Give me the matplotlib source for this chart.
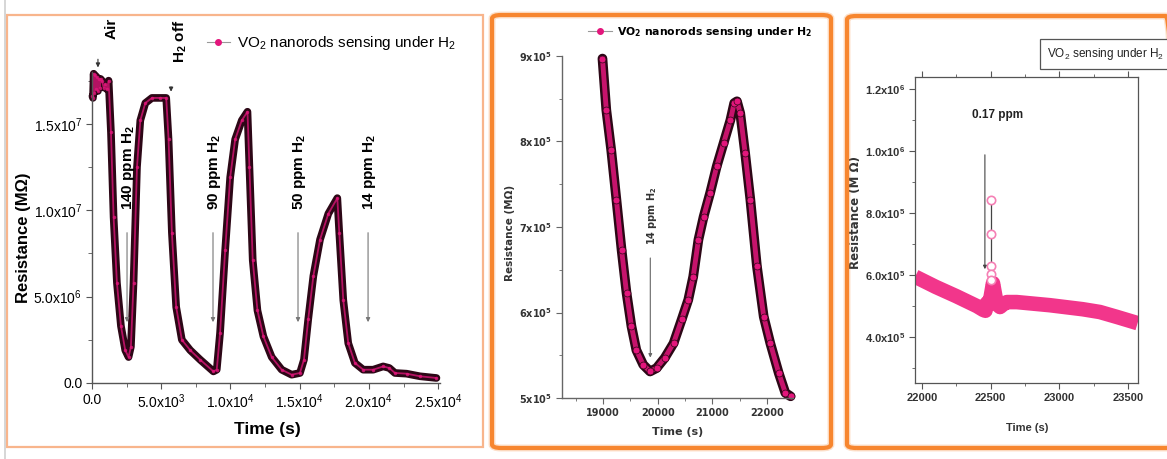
import numpy as np
import matplotlib.pyplot as plt
from matplotlib.lines import Line2D
from matplotlib.patches import Rectangle, FancyBboxPatch

# panel 1: full response, resistance in units of 1e6
time1 = [30, 70, 120, 170, 230, 300, 360, 430, 500, 550, 620, 720, 840, 960, 1080, 1200,
         1370, 1560, 1800, 2090, 2400, 2640, 2810, 3000, 3250, 3490, 3850, 4330, 4900, 5360,
         5530, 5770, 6080, 6490, 7090, 7810, 8770, 9010, 9250, 9620, 9980, 10340, 10820, 11230,
         11370, 11610, 11950, 12380, 12980, 13700, 14420, 15020, 15310, 15620, 15990, 16470,
         17070, 17720, 17860, 18150, 18510, 18990, 19590, 20310, 21030, 21470, 21880, 22720,
         23680, 24880]
res1 = [16.6, 16.5, 17.9, 16.8, 17.8, 17.0, 17.7, 16.9, 17.6, 17.1, 17.6, 17.5, 17.1, 17.3, 17.0, 17.5,
        14.5, 9.6, 5.8, 3.3, 1.9, 1.5, 2.1, 5.8, 12.5, 15.2, 16.2, 16.5, 16.5, 16.5,
        14.1, 8.7, 4.4, 2.5, 1.9, 1.35, 0.67, 0.77, 2.9, 7.7, 11.9, 14.1, 15.2, 15.7,
        12.5, 7.1, 4.2, 2.7, 1.5, 0.77, 0.48, 0.58, 1.35, 3.7, 6.2, 8.3,
        9.8, 10.7, 8.7, 4.8, 2.3, 1.16, 0.77, 0.77, 0.96, 0.87, 0.58, 0.54,
        0.39, 0.29]
xticks1 = [0, 5000, 10000, 15000, 20000, 25000]
xlabels1 = ['0.0', '5.0x10^3', '1.0x10^4', '1.5x10^4', '2.0x10^4', '2.5x10^4']
yticks1 = [0, 5e6, 1e7, 1.5e7]
ylabels1 = ['0.0', '5.0x10^6', '1.0x10^7', '1.5x10^7']
# (label, time, arrow top, arrow bottom)
gas1 = [('140 ppm H$\\mathregular{_2}$', 2530, 8.86e6, 3.36e6),
        ('90 ppm H$\\mathregular{_2}$', 8740, 8.86e6, 3.36e6),
        ('50 ppm H$\\mathregular{_2}$', 14880, 8.86e6, 3.36e6),
        ('14 ppm H$\\mathregular{_2}$', 19940, 8.86e6, 3.36e6)]

# panel 2: zoom on the 14 ppm pulse
time2 = [18990, 19060, 19150, 19245, 19340, 19430, 19520, 19610, 19735, 19860, 19980, 20130,
         20290, 20440, 20560, 20650, 20745, 20840, 20960, 21080, 21205, 21330, 21400, 21450,
         21510, 21600, 21695, 21815, 21940, 22060, 22215, 22335, 22430]
res2 = [8.97, 8.37, 7.90, 7.32, 6.73, 6.23, 5.84, 5.56, 5.39, 5.31, 5.35, 5.47,
        5.64, 5.92, 6.15, 6.42, 6.85, 7.12, 7.40, 7.71, 7.98, 8.25, 8.45, 8.47,
        8.33, 7.86, 7.32, 6.54, 5.95, 5.64, 5.29, 5.06, 5.02]
xticks2 = [19000, 20000, 21000, 22000]
yticks2 = [5e5, 6e5, 7e5, 8e5, 9e5]
ylabels2 = ['5x10^5', '6x10^5', '7x10^5', '8x10^5', '9x10^5']

# panel 3: 0.17 ppm
time3 = [21950, 22100, 22250, 22400, 22445, 22462, 22473, 22485, 22500, 22517, 22535, 22553,
         22568, 22590, 22618, 22690, 22930, 23170, 23295, 23420, 23570]
res3 = [5.95, 5.62, 5.32, 5.0, 4.88, 4.85, 5.1, 5.05, 5.3, 5.74, 5.3, 5.03,
        4.97, 5.05, 5.13, 5.13, 5.03, 4.9, 4.81, 4.65, 4.45]
spike_t = [22500, 22500, 22500, 22500, 22500]
spike_r = [8.42, 7.34, 6.3, 6.02, 5.85]
xticks3 = [22000, 22500, 23000, 23500]
yticks3 = [4e5, 6e5, 8e5, 1e6, 1.2e6]
ylabels3 = ['4.0x10^5', '6.0x10^5', '8.0x10^5', '1.0x10^6', '1.2x10^6']


def sup(lbl):
    if '^' not in lbl:
        return lbl
    base, p = lbl.split('^')
    return '$\\mathregular{' + base + '^{' + p + '}}$'


W, H = 1167, 459
fig = plt.figure(figsize=(W / 100, H / 100), dpi=100)


def box(l, t, r, b):
    return [l / W, 1 - b / H, (r - l) / W, (b - t) / H]


# frames round the three panels
fig.add_artist(Line2D([5 / W, 5 / W], [0, 1], color='#cfcfcf', lw=1.2))
fig.add_artist(Rectangle((7 / W, 1 - 447 / H), 476 / W, 432 / H, transform=fig.transFigure,
                         fill=False, ec='#f8b58c', lw=1.6))
for l, t, r, b in [(492, 15, 831, 448), (847, 16, 1175, 448)]:
    for lw, a in [(5, 0.25), (3, 1.0)]:
        fig.add_artist(FancyBboxPatch((l / W, 1 - b / H), (r - l) / W, (b - t) / H,
                                      boxstyle='round,pad=0,rounding_size=0.008',
                                      transform=fig.transFigure, fill=False,
                                      ec='#f7862f', lw=lw, alpha=a))

dark = '#2c0716'
pink = '#e3167c'

# ---------- panel 1
ax1 = fig.add_axes(box(92, 72, 439.5, 383))
t1 = np.array(time1)
r1 = np.array(res1) * 1e6
ax1.plot(t1, r1, color=dark, lw=5.5, solid_capstyle='round', solid_joinstyle='round', clip_on=False)
ax1.plot(t1, r1, color=pink, lw=1.3, alpha=0.75, clip_on=False)
ax1.plot(t1, r1, 'o', ms=2.5, mfc=pink, mec=pink, mew=0, alpha=0.8, clip_on=False)
ax1.set_xlim(0, 25100)
ax1.set_ylim(0, 1.8e7)
ax1.set_xticks(xticks1, [sup(s) for s in xlabels1])
ax1.set_yticks(yticks1, [sup(s) for s in ylabels1])
ax1.set_xticks(np.arange(2500, 25000, 5000), minor=True)
ax1.set_yticks([2.5e6, 7.5e6, 1.25e7, 1.75e7], minor=True)
for s in ['top', 'right']:
    ax1.spines[s].set_visible(False)
for s in ['left', 'bottom']:
    ax1.spines[s].set_color('#555555')
    ax1.spines[s].set_linewidth(1.0)
ax1.tick_params(which='both', direction='out', color='#555555', labelsize=10, pad=3,
                labelfontfamily='Liberation Sans')
ax1.tick_params(which='major', length=4)
ax1.tick_params(which='minor', length=3)
ax1.set_xlabel('Time (s)', fontsize=12.5, family='Liberation Sans', fontweight='bold')
ax1.set_ylabel('Resistance (MΩ)', fontsize=12, family='Liberation Sans', fontweight='bold')
ax1.xaxis.set_label_coords(0.506, -0.125)
ax1.yaxis.set_label_coords(-0.176, 0.466)
for lbl, tx, ytop, ybot in gas1:
    ax1.annotate('', xy=(tx, ybot), xytext=(tx, ytop), annotation_clip=False,
                 arrowprops=dict(arrowstyle='-|>', color='#777777', lw=0.8, mutation_scale=6))
    ax1.text(tx + 100, 1.0e7, lbl, rotation=90, ha='center', va='bottom', fontsize=11,
             family='Liberation Sans', fontweight='bold')
ax1.annotate('', xy=(430, 18.1e6), xytext=(430, 18.9e6), annotation_clip=False,
             arrowprops=dict(arrowstyle='-|>', color='#333333', lw=0.8, mutation_scale=6))
ax1.text(1445, 19.9e6, 'Air', rotation=90, ha='center', va='bottom', fontsize=11,
         family='Liberation Sans', fontweight='bold')
ax1.annotate('', xy=(5710, 16.7e6), xytext=(5710, 17.3e6), annotation_clip=False,
             arrowprops=dict(arrowstyle='-|>', color='#333333', lw=0.8, mutation_scale=6))
ax1.text(6360, 18.5e6, 'H$\\mathregular{_2}$ off', rotation=90, ha='center', va='bottom',
         fontsize=11, family='Liberation Sans', fontweight='bold')
h1 = Line2D([], [], color='#999999', lw=0.8, marker='o', ms=4, mfc=pink, mec=pink)
ax1.legend([h1], ['VO$\\mathregular{_2}$ nanorods sensing under H$\\mathregular{_2}$'],
           loc='center left', bbox_to_anchor=(207 / W, 1 - 43 / H), bbox_transform=fig.transFigure,
           frameon=False, borderpad=0, borderaxespad=0, handlelength=1.5, handletextpad=0.45,
           prop={'family': 'Liberation Sans', 'size': 11})

# ---------- panel 2
ax2 = fig.add_axes(box(562, 56, 793, 398))
t2 = np.array(time2)
r2 = np.array(res2) * 1e5
ax2.plot(t2, r2, color=dark, lw=7, solid_capstyle='round', solid_joinstyle='round', clip_on=False)
ax2.plot(t2, r2, color=pink, lw=3.5, alpha=0.85, clip_on=False)
ax2.plot(t2, r2, 'o', ms=5, mfc=pink, mec=dark, mew=0.5, clip_on=False)
ax2.set_xlim(18250, 22475)
ax2.set_ylim(5e5, 9e5)
ax2.set_xticks(xticks2, [str(v) for v in xticks2])
ax2.set_yticks(yticks2, [sup(s) for s in ylabels2])
ax2.set_xticks([18500, 19500, 20500, 21500], minor=True)
ax2.set_yticks([5.5e5, 6.5e5, 7.5e5, 8.5e5], minor=True)
for s in ['top', 'right']:
    ax2.spines[s].set_visible(False)
for s in ['left', 'bottom']:
    ax2.spines[s].set_color('#666666')
    ax2.spines[s].set_linewidth(1.0)
ax2.tick_params(which='both', direction='out', color='#666666', labelsize=7, pad=3)
ax2.tick_params(which='major', length=4)
ax2.tick_params(which='minor', length=2.5)
for lab in ax2.get_xticklabels() + ax2.get_yticklabels():
    lab.set_fontweight('bold')
    lab.set_color('#333333')
ax2.set_xlabel('Time (s)', fontsize=8, fontweight='bold', color='#333333')
ax2.set_ylabel('Resistance (MΩ)', fontsize=7.5, fontweight='bold', color='#333333')
ax2.xaxis.set_label_coords(0.502, -0.085)
ax2.yaxis.set_label_coords(-0.203, 0.482)
ax2.annotate('', xy=(19865, 5.44e5), xytext=(19865, 6.67e5), annotation_clip=False,
             arrowprops=dict(arrowstyle='-|>', color='#666666', lw=0.8, mutation_scale=5))
ax2.text(19900, 6.79e5, '14 ppm H$\\mathregular{_2}$', rotation=90, ha='center', va='bottom',
         fontsize=7, fontweight='bold', color='#333333')
h2 = Line2D([], [], color='#999999', lw=0.8, marker='o', ms=4, mfc=pink, mec=pink)
ax2.legend([h2], ['VO$\\mathregular{_2}$ nanorods sensing under H$\\mathregular{_2}$'],
           loc='center left', bbox_to_anchor=(588 / W, 1 - 32 / H), bbox_transform=fig.transFigure,
           frameon=False, borderpad=0, borderaxespad=0, handlelength=2.2, handletextpad=0.5,
           prop={'size': 7.8, 'weight': 'bold'})

# ---------- panel 3
ax3 = fig.add_axes(box(915, 77, 1138, 383))
t3 = np.array(time3)
r3 = np.array(res3) * 1e5
ax3.plot(spike_t, np.array(spike_r) * 1e5, color='#444444', lw=0.9)
ax3.plot(t3, r3, color='#f2368b', lw=10.5, solid_capstyle='butt', solid_joinstyle='round')
ax3.plot(spike_t, np.array(spike_r) * 1e5, 'o', ms=6, mfc='white', mec='#f580b5', mew=1.2)
ax3.set_xlim(21949, 23573)
ax3.set_ylim(2.52e5, 1.239e6)
ax3.set_xticks(xticks3, [str(v) for v in xticks3])
ax3.set_yticks(yticks3, [sup(s) for s in ylabels3])
ax3.set_xticks([22250, 22750, 23250], minor=True)
ax3.set_yticks([3e5, 5e5, 7e5, 9e5, 1.1e6], minor=True)
for s in ax3.spines.values():
    s.set_color('#555555')
    s.set_linewidth(0.9)
ax3.tick_params(which='both', direction='out', color='#555555', top=True, labelsize=8, pad=3,
                labelfontfamily='Liberation Sans')
ax3.tick_params(which='major', length=4)
ax3.tick_params(which='minor', length=2.5)
for lab in ax3.get_xticklabels() + ax3.get_yticklabels():
    lab.set_fontweight('bold')
    lab.set_color('#333333')
ax3.set_xlabel('Time (s)', fontsize=8, family='Liberation Sans', fontweight='bold', color='#333333')
ax3.set_ylabel('Resistance (M Ω)', fontsize=8.5, fontweight='bold', color='#333333')
ax3.xaxis.set_label_coords(0.502, -0.131)
ax3.yaxis.set_label_coords(-0.238, 0.556)
ax3.annotate('', xy=(22458, 6.1e5), xytext=(22458, 9.97e5),
             arrowprops=dict(arrowstyle='-|>', color='#444444', lw=0.8, mutation_scale=5))
ax3.text(22553, 1.116e6, '0.17 ppm', ha='center', va='center', fontsize=8.5,
         family='Liberation Sans', fontweight='bold', color='#222222')
fig.text(1047 / W, 1 - 54 / H, 'VO$\\mathregular{_2}$ sensing under H$\\mathregular{_2}$',
         ha='left', va='center', fontsize=8.5, family='Liberation Sans', color='#222222',
         bbox=dict(boxstyle='square,pad=0.6', fc='white', ec='#555555', lw=0.9))

fig.savefig('out.png', dpi=100)
